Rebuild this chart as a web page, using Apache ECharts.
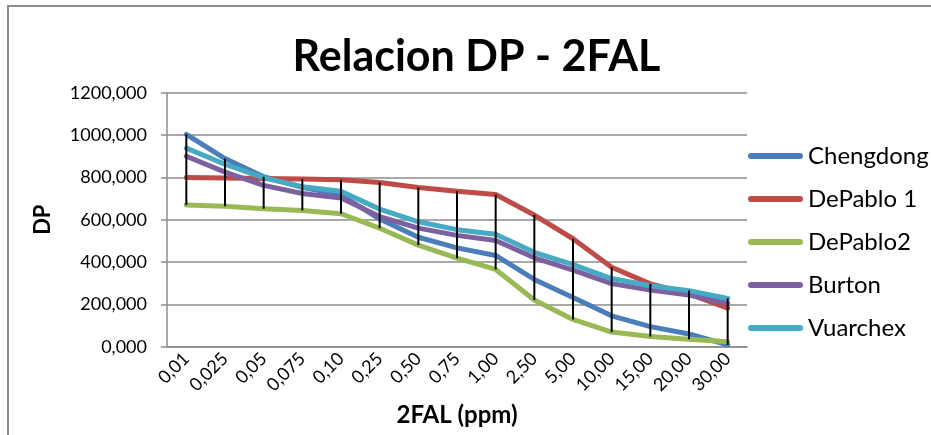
<!DOCTYPE html>
<html>
<head>
<meta charset="utf-8">
<title>Relacion DP - 2FAL</title>
<script src="https://cdn.jsdelivr.net/npm/echarts@6/dist/echarts.min.js"></script>
<style>
  html, body { margin: 0; padding: 0; background: #ffffff; }
  #chart { width: 931px; height: 435px; }
</style>
</head>
<body>
<div id="chart"></div>
<script>
// 2FAL concentration (ppm), one category per measurement point
const categories = ['0,01', '0,025', '0,05', '0,075', '0,10', '0,25', '0,50', '0,75',
  '1,00', '2,50', '5,00', '10,00', '15,00', '20,00', '30,00'];

// Degree of polymerisation estimated by each model
const chengdong = [1003, 889, 803, 753, 717, 603, 517, 467, 431, 318, 232, 146, 95, 60, 9];
const dePablo1 = [799, 797, 795, 792, 789, 776, 752, 734, 719, 622, 510, 375, 297, 250, 182];
const dePablo2 = [670, 663, 652, 644, 628, 560, 480, 418, 365, 221, 129, 69, 48, 35, 23];
const burton = [900, 825, 762, 724, 702, 615, 560, 526, 502, 420, 362, 298, 268, 244, 205];
const vuarchex = [938, 862, 798, 756, 734, 650, 590, 553, 531, 446, 388, 322, 288, 265, 228];

// Y axis ticks
const yTicks = [0, 200, 400, 600, 800, 1000, 1200];

const seriesNames = ['Chengdong', 'DePablo 1', 'DePablo2', 'Burton', 'Vuarchex'];
const seriesValues = [chengdong, dePablo1, dePablo2, burton, vuarchex];
const seriesColors = ['#4A7EBB', '#BE4B48', '#98B954', '#7D60A0', '#46AAC5'];

const FONT = 'Lato, "Open Sans", sans-serif';

// High-low lines: lowest and highest model value at each category
const highLow = categories.map(function (c, i) {
  const vals = seriesValues.map(function (s) { return s[i]; });
  return [i, Math.min.apply(null, vals), Math.max.apply(null, vals)];
});

const fmt = function (v) { return v.toFixed(3).replace('.', ','); };

const chart = echarts.init(document.getElementById('chart'), null, { renderer: 'canvas' });

const lineSeries = seriesNames.map(function (name, k) {
  return {
    name: name,
    type: 'line',
    data: seriesValues[k],
    symbol: 'none',
    smooth: false,
    silent: true,
    z: 2 + k,
    color: seriesColors[k],
    lineStyle: { width: 5, color: seriesColors[k], cap: 'round', join: 'round' },
    emphasis: { disabled: true }
  };
});

chart.setOption({
  animation: false,
  backgroundColor: '#ffffff',
  grid: {
    left: 167, right: 184, top: 92.7, bottom: 88.3,
    containLabel: false, outerBoundsMode: 'none'
  },
  legend: {
    orient: 'vertical',
    left: 743, top: 136,
    itemWidth: 55, itemHeight: 6,
    itemGap: 13,
    icon: 'path://M3,0 L52,0 A3,3 0 0 1 52,6 L3,6 A3,3 0 0 1 3,0 Z',
    selectedMode: false,
    textStyle: { fontFamily: FONT, fontSize: 24, color: '#000000', lineHeight: 30 },
    data: seriesNames
  },
  xAxis: {
    type: 'category',
    data: categories,
    boundaryGap: true,
    axisLine: { show: true, lineStyle: { color: '#8c8c8c', width: 1.5 } },
    axisTick: { show: false },
    axisLabel: {
      interval: 0, rotate: 45, margin: 9,
      fontFamily: FONT, fontSize: 18, color: '#000000'
    },
    splitLine: { show: false }
  },
  yAxis: {
    type: 'value',
    min: yTicks[0], max: yTicks[yTicks.length - 1], interval: 200,
    axisLine: { show: true, lineStyle: { color: '#8c8c8c', width: 1.5 } },
    axisTick: { show: true, inside: false, length: 6, lineStyle: { color: '#8c8c8c', width: 1.5 } },
    axisLabel: {
      margin: 20, fontFamily: FONT, fontSize: 18, color: '#000000',
      formatter: fmt
    },
    splitLine: { show: true, lineStyle: { color: '#8c8c8c', width: 1.5 } }
  },
  graphic: [
    {
      type: 'rect', silent: true, z: -1,
      shape: { x: 8, y: 6, width: 1000, height: 500 },
      style: { fill: 'none', stroke: '#8c8c8c', lineWidth: 2 }
    },
    {
      type: 'text', silent: true,
      x: 476.5, y: 57.5,
      style: {
        text: 'Relacion DP - 2FAL', fontFamily: FONT, fontWeight: 'bold', fontSize: 43,
        fill: '#000000', align: 'center', verticalAlign: 'middle'
      }
    },
    {
      type: 'text', silent: true,
      x: 43, y: 219.7, rotation: Math.PI / 2,
      style: {
        text: 'DP', fontFamily: FONT, fontWeight: 'bold', fontSize: 22,
        fill: '#000000', align: 'center', verticalAlign: 'middle'
      }
    },
    {
      type: 'text', silent: true,
      x: 457, y: 415,
      style: {
        text: '2FAL (ppm)', fontFamily: FONT, fontWeight: 'bold', fontSize: 24,
        fill: '#000000', align: 'center', verticalAlign: 'middle'
      }
    }
  ],
  series: lineSeries.concat([{
    name: 'High-Low',
    type: 'custom',
    silent: true,
    z: 20,
    data: highLow,
    encode: { x: 0, y: [1, 2] },
    renderItem: function (params, api) {
      const lo = api.coord([api.value(0), api.value(1)]);
      const hi = api.coord([api.value(0), api.value(2)]);
      return {
        type: 'line',
        shape: { x1: lo[0], y1: lo[1], x2: hi[0], y2: hi[1] },
        style: { stroke: '#000000', lineWidth: 2 }
      };
    }
  }])
});
</script>
</body>
</html>
